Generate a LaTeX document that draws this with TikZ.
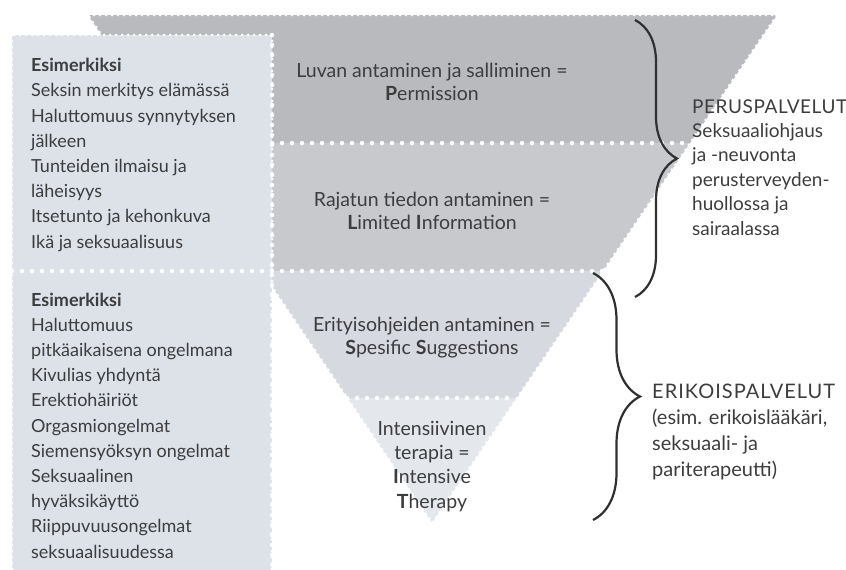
\documentclass[tikz,border=0pt]{standalone}
\usepackage{fontspec}
\setmainfont{Lato}
\usetikzlibrary{decorations.pathreplacing}
\definecolor{bandA}{HTML}{B9BABE}
\definecolor{bandB}{HTML}{C7C9CD}
\definecolor{bandC}{HTML}{D6D9DF}
\definecolor{bandD}{HTML}{E4E7EC}
\definecolor{boxc}{HTML}{DDE1E8}
\definecolor{textc}{HTML}{3D3D3D}
\definecolor{bracec}{HTML}{303030}
\newcommand{\capsp}[2]{{\addfontfeature{LetterSpace=#1}#2}}
\tikzset{
  scallop/.style={white, line width=3pt, dash pattern=on 0pt off 6pt, line cap=round},
  perf/.style={white, line width=4.5pt, dash pattern=on 0pt off 10pt, line cap=round},
  txt/.style={text=textc, inner sep=0pt},
  lefttxt/.style={txt, align=left, anchor=base west, font=\fontsize{18}{25.2}\selectfont},
  midtxt/.style={txt, align=center, anchor=base, font=\fontsize{19.5}{23}\selectfont},
  brc/.style={draw=bracec, line width=2.2pt, decorate},
}
\begin{document}
\begin{tikzpicture}[x=1pt,y=-1pt]
\useasboundingbox (0,0) rectangle (846,570);
% pyramid bands
\begin{scope}
\clip (88,15) -- (777,15) -- (432,523) -- cycle;
\fill[bandA] (0,0) rectangle (846,143);
\fill[bandB] (0,143) rectangle (846,271);
\fill[bandC] (0,271) rectangle (846,398);
\fill[bandD] (0,398) rectangle (846,570);
\end{scope}
\draw[scallop] (88,15) -- (777,15) -- (432,523) -- cycle;
% left boxes
\fill[boxc] (12,35) rectangle (272,271);
\fill[boxc] (12,271) rectangle (272,572);
\draw[scallop] (12,35) rectangle (272,571);
% perforation lines
\draw[perf] (272,143) -- (690,143);
\draw[perf] (12,271) -- (604,271);
\draw[perf] (347,398) -- (517,398);
\draw[perf] (272,35) -- (272,570);
% left texts (anchor = baseline of last line)
\node[lefttxt] (ex1) at (31,248) {\textbf{Esimerkiksi}\\Seksin merkitys elämässä\\Haluttomuus synnytyksen\\jälkeen\\Tunteiden ilmaisu ja\\läheisyys\\Itsetunto ja kehonkuva\\Ikä ja seksuaalisuus};
\node[lefttxt] (ex2) at (31,558) {\textbf{Esimerkiksi}\\Haluttomuus\\pitkäaikaisena ongelmana\\Kivulias yhdyntä\\Erektiohäiriöt\\Orgasmiongelmat\\Siemensyöksyn ongelmat\\Seksuaalinen\\hyväksikäyttö\\Riippuvuusongelmat\\seksuaalisuudessa};
% pyramid texts
\node[midtxt] (p) at (432,100) {Luvan antaminen ja salliminen =\\\textbf{P}ermission};
\node[midtxt] (li) at (432,229) {Rajatun tiedon antaminen =\\\textbf{L}imited \textbf{I}nformation};
\node[midtxt] (ss) at (432,354) {Erityisohjeiden antaminen =\\\textbf{S}pesific \textbf{S}uggestions};
\node[midtxt, font=\fontsize{19.5}{24.3}\selectfont] (it) at (432,508) {Intensiivinen\\terapia =\\\textbf{I}ntensive\\\textbf{T}herapy};
% braces
\coordinate (b1t) at (635,20);
\coordinate (b1b) at (635,297);
\coordinate (b2t) at (593,273);
\coordinate (b2b) at (593,520);
\draw[brc, decoration={brace, amplitude=42pt}] (b1t) -- (b1b);
\draw[brc, decoration={brace, amplitude=47pt}] (b2t) -- (b2b);
% right texts
\node[txt, align=left, anchor=base west, font=\fontsize{19}{24.4}\selectfont] (perus) at (692,235) {\capsp{3}{PERUSPALVELUT}\\Seksuaaliohjaus\\ja -neuvonta\\perusterveyden-\\huollossa ja\\sairaalassa};
\node[txt, align=left, anchor=base west, font=\fontsize{20}{26}\selectfont] (erik) at (652,476) {\capsp{5}{ERIKOISPALVELUT}\\(esim. erikoislääkäri,\\seksuaali- ja\\pariterapeutti)};
\end{tikzpicture}
\end{document}
